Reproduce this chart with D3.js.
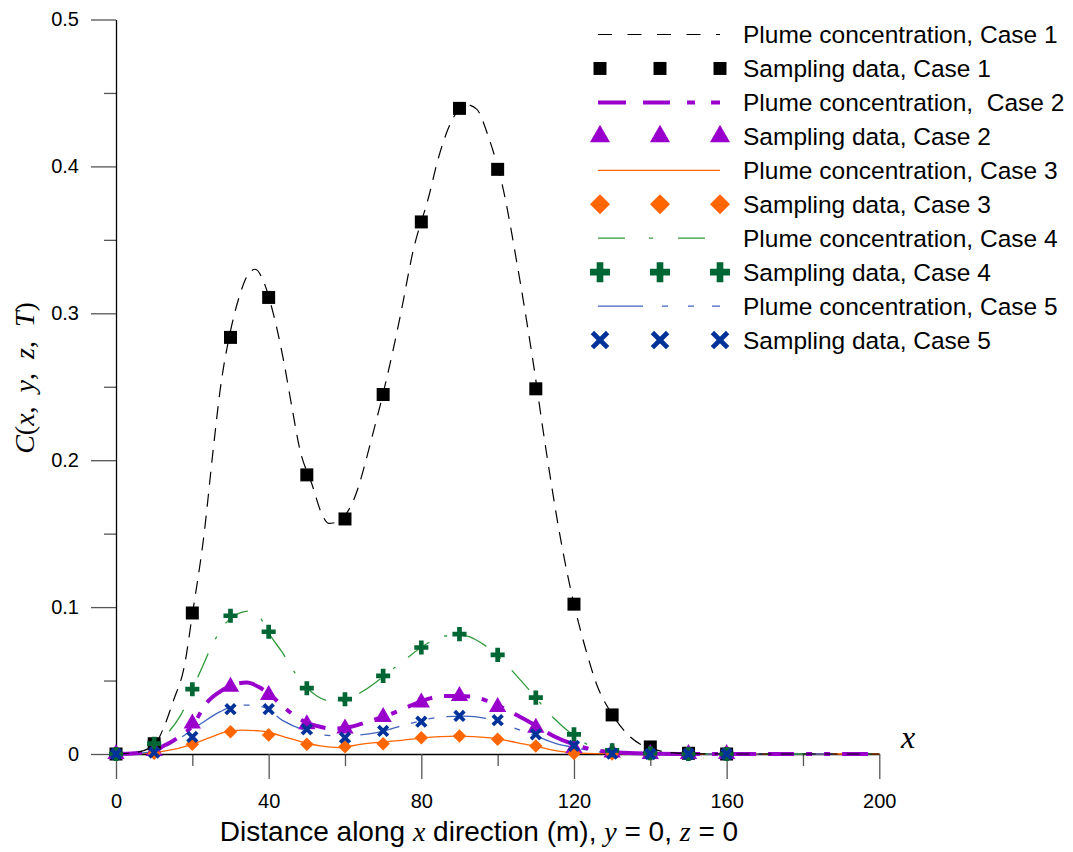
<!DOCTYPE html>
<html>
<head>
<meta charset="utf-8">
<script src="https://cdn.jsdelivr.net/npm/d3@7"></script>
<style>
  body { margin: 0; background: #fff; }
  svg { font-family: "Liberation Sans", Arial, sans-serif; }
</style>
</head>
<body>
<svg id="chart" width="1073" height="852"></svg>
<script>
// sampling locations (m) and measured values
const sampleX = [0, 10, 20, 30, 40, 50, 60, 70, 80, 90, 100, 110, 120, 130, 140, 150, 160];
const sample1 = [0, 0.007, 0.096, 0.2836, 0.3108, 0.190, 0.160, 0.2447, 0.3622, 0.4395, 0.398, 0.2486, 0.102, 0.0266, 0.0048, 0.0005, 0];
const sample2 = [0, 0.002, 0.0207, 0.0457, 0.0402, 0.0202, 0.0174, 0.0252, 0.035, 0.0395, 0.032, 0.0179, 0.004, 0.001, 0, 0, 0];
const sample3 = [0, 0.0005, 0.0066, 0.0152, 0.013, 0.0066, 0.005, 0.007, 0.0111, 0.0123, 0.010, 0.0055, 0.0003, 0, 0, 0, 0];
const sample4 = [0, 0.007, 0.0441, 0.0941, 0.0832, 0.0448, 0.0373, 0.0532, 0.0725, 0.0816, 0.0675, 0.0384, 0.0134, 0.0025, 0.0005, 0, 0];
const sample5 = [0, 0.001, 0.0116, 0.0305, 0.0305, 0.0168, 0.0111, 0.0157, 0.022, 0.0259, 0.023, 0.0134, 0.0055, 0.0002, 0, 0, 0];

// plume concentration curves, [x, C]
const plume1 = [[0,0],[5,0.001],[10,0.006],[12.5,0.018],[15,0.036],[18,0.061],[20,0.095],[23,0.148],[25.5,0.208],[27.3,0.248],[30,0.288],[32.5,0.313],[34.3,0.325],[36.5,0.330],[38.6,0.322],[41.2,0.300],[43.9,0.268],[46.1,0.236],[48.2,0.207],[51.3,0.184],[54,0.163],[55.7,0.157],[58,0.158],[62.2,0.1725],[67.5,0.220],[71,0.2565],[74.4,0.297],[77.9,0.343],[81.9,0.379],[84.5,0.406],[87.6,0.429],[91.9,0.442],[94.5,0.439],[97.6,0.420],[101.5,0.384],[105,0.335],[109.4,0.265],[112.5,0.210],[116.8,0.142],[120,0.102],[123,0.072],[126,0.047],[130,0.027],[134,0.0135],[137.4,0.0066],[140,0.004],[145,0.001],[150,0.0003],[160,0],[200,0]];
const plume2 = [[0,0],[5,0.0005],[10,0.002],[12.4,0.0054],[15,0.009],[17.2,0.0129],[20,0.019],[23.5,0.034],[27,0.042],[29.9,0.0463],[34.3,0.0486],[37.7,0.0452],[41.2,0.0384],[43.9,0.032],[49.1,0.0225],[54.3,0.018],[57,0.0172],[60.5,0.018],[66.6,0.0225],[71.8,0.027],[77,0.0327],[82.3,0.0379],[86,0.0395],[90.2,0.0395],[94.5,0.0384],[100,0.033],[104.6,0.027],[109.4,0.0202],[114.6,0.0123],[119.9,0.0066],[125,0.003],[130,0.0012],[140,0.0003],[150,0],[200,0]];
const plume3 = [[0,0],[5,0.0002],[10,0.001],[15,0.0031],[20,0.0068],[24.6,0.0112],[28,0.0145],[32.5,0.0163],[37.7,0.0157],[40,0.0148],[44.7,0.0112],[49,0.008],[53.5,0.0055],[58.7,0.0044],[64,0.0066],[70,0.0082],[75.3,0.0094],[80,0.0108],[85,0.0118],[89,0.0122],[93.7,0.0118],[100,0.0103],[105,0.0077],[110,0.0052],[115.5,0.0021],[120,0.0008],[130,0.0002],[140,0],[200,0]];
const plume4 = [[0,0],[5,0.001],[10,0.005],[12.4,0.011],[16.8,0.0258],[22.5,0.0586],[25.5,0.0757],[28.8,0.0893],[32,0.0955],[34.7,0.0972],[37.5,0.0935],[40.8,0.0792],[43.4,0.0698],[47.2,0.054],[52.6,0.0395],[56,0.036],[58.7,0.0356],[64.8,0.0429],[71,0.0547],[75.8,0.0645],[81.9,0.0757],[87,0.0805],[91.9,0.0803],[94.5,0.0774],[100,0.067],[105.4,0.052],[108.5,0.0429],[114.6,0.0247],[120,0.0125],[124.2,0.0055],[130,0.0018],[140,0.0003],[150,0],[200,0]];
const plume5 = [[0,0],[5,0.0003],[10,0.002],[15.5,0.0088],[22,0.0202],[27.3,0.0288],[31,0.0326],[34.3,0.0333],[38.6,0.0319],[43.6,0.0229],[49,0.0165],[53,0.0135],[58.7,0.0122],[63,0.0128],[68.3,0.0145],[76.2,0.0202],[85,0.0251],[91,0.0258],[97.2,0.0242],[104.1,0.0179],[111.1,0.0111],[116,0.0066],[120,0.0045],[125,0.002],[130,0.0008],[140,0],[200,0]];

const xTicks = [0, 40, 80, 120, 160, 200];
const xMinorTicks = [20, 60, 100, 140, 180];
const yTicks = [0, 0.1, 0.2, 0.3, 0.4, 0.5];
const yMinorTicks = [0.05, 0.15, 0.25, 0.35, 0.45];

const lineLabels = ['Plume concentration, Case 1', 'Plume concentration,  Case 2', 'Plume concentration, Case 3', 'Plume concentration, Case 4', 'Plume concentration, Case 5'];
const markLabels = ['Sampling data, Case 1', 'Sampling data, Case 2', 'Sampling data, Case 3', 'Sampling data, Case 4', 'Sampling data, Case 5'];

const svg = d3.select('#chart');
svg.append('rect').attr('width', 1073).attr('height', 852).attr('fill', '#fff');

const x = d3.scaleLinear().domain([0, 200]).range([116, 879.3]);
const y = d3.scaleLinear().domain([0, 0.5]).range([754, 19.5]);

// ---- axes
function styleAxis(g) {
  g.selectAll('.tick line').attr('stroke', '#555').attr('stroke-width', 1.3);
  g.selectAll('.tick text').attr('fill', '#000').attr('font-size', 20)
    .attr('font-family', '"Liberation Sans", Arial, sans-serif');
  g.select('.domain').attr('stroke', '#000').attr('stroke-width', 1.3);
}

const gxMinor = svg.append('g').attr('transform', `translate(0,${y(0)})`)
  .call(d3.axisBottom(x).tickValues(xMinorTicks).tickSize(12).tickFormat(''));
gxMinor.select('.domain').remove();
styleAxis(gxMinor);
const gx = svg.append('g').attr('transform', `translate(0,${y(0)})`)
  .call(d3.axisBottom(x).tickValues(xTicks).tickSize(25).tickSizeOuter(0).tickPadding(15).tickFormat(d3.format('d')));
styleAxis(gx);

const gyMinor = svg.append('g').attr('transform', `translate(${x(0)},0)`)
  .call(d3.axisLeft(y).tickValues(yMinorTicks).tickSize(12).tickFormat(''));
gyMinor.select('.domain').remove();
styleAxis(gyMinor);
const gy = svg.append('g').attr('transform', `translate(${x(0)},0)`)
  .call(d3.axisLeft(y).tickValues(yTicks).tickSize(25).tickSizeOuter(0).tickPadding(12).tickFormat(d => d === 0 ? '0' : d3.format('.1f')(d)));
styleAxis(gy);

// axis titles
const serif = '"Liberation Serif", "Times New Roman", serif';
const xt = svg.append('text').attr('x', 479).attr('y', 841).attr('text-anchor', 'middle')
  .attr('font-size', 28).style('white-space', 'pre');
xt.append('tspan').text('Distance along ');
xt.append('tspan').attr('font-family', serif).attr('font-style', 'italic').text('x');
xt.append('tspan').text(' direction (m), ');
xt.append('tspan').attr('font-family', serif).attr('font-style', 'italic').text('y');
xt.append('tspan').text(' = 0, ');
xt.append('tspan').attr('font-family', serif).attr('font-style', 'italic').text('z');
xt.append('tspan').text(' = 0');

const yt = svg.append('text').attr('transform', 'translate(34,378) rotate(-90)')
  .attr('text-anchor', 'middle').attr('font-family', serif).attr('font-size', 28).style('white-space', 'pre');
[['C', 1], ['(', 0], ['x', 1], [',  ', 0], ['y', 1], [',  ', 0], ['z', 1], [',  ', 0], ['T', 1], [')', 0]]
  .forEach(([t, it]) => yt.append('tspan').attr('font-style', it ? 'italic' : 'normal').text(t));

svg.append('text').attr('x', 908).attr('y', 748).attr('text-anchor', 'middle')
  .attr('font-family', serif).attr('font-style', 'italic').attr('font-size', 32).text('x');

// ---- series styles
const series = [
  { curve: plume1, data: sample1, line: '#000', width: 1.2, dash: '13,9', legendDash: '14,15.5', mark: 'square', color: '#000' },
  { curve: plume2, data: sample2, line: '#9900cc', width: 4, dash: '26,12,26,12,6,12,6,12', legendDash: '28,17,27,17,8,16,11', mark: 'triangle', color: '#9900cc' },
  { curve: plume3, data: sample3, line: '#ff6600', width: 1.3, dash: null, legendDash: null, mark: 'diamond', color: '#ff6600' },
  { curve: plume4, data: sample4, line: '#2e9a3a', width: 1.3, dash: '26,16,3,16', legendDash: '27,24,4,25,27,20', mark: 'plus', color: '#006633' },
  { curve: plume5, data: sample5, line: '#3f63bf', width: 1.3, dash: '40,12,6,12,6,12', legendDash: '45,19,6,20,6,18,8', mark: 'cross', color: '#003399' }
];

const line = d3.line().x(d => x(d[0])).y(d => y(d[1])).curve(d3.curveMonotoneX);

function markPath(type, big) {
  if (type === 'square') return d3.symbol(d3.symbolSquare, 169)();
  if (type === 'triangle') return d3.symbol(d3.symbolTriangle, big ? 175 : 130)();
  if (type === 'diamond') return d3.symbol(d3.symbolSquare, big ? 200 : 92)();
  if (type === 'plus') return d3.symbol(d3.symbolCross, big ? 222 : 110)();
  const r = big ? 7.6 : 4.8;
  return `M${-r},${-r}L${r},${r}M${-r},${r}L${r},${-r}`;
}

function drawMark(g, s, cx, cy, big) {
  const p = g.append('path').attr('d', markPath(s.mark, big));
  const rot = s.mark === 'diamond' ? ' rotate(45)' : '';
  p.attr('transform', `translate(${cx},${cy})${rot}`);
  if (s.mark === 'cross') {
    p.attr('fill', 'none').attr('stroke', s.color).attr('stroke-width', big ? 4.8 : 3.8);
  } else {
    p.attr('fill', s.color);
  }
}

const plot = svg.append('g');
[2, 4, 3, 1, 0].forEach(i => {
  const s = series[i];
  plot.append('path').datum(s.curve)
    .attr('fill', 'none').attr('stroke', s.line).attr('stroke-width', s.width)
    .attr('stroke-dasharray', s.dash).attr('d', line);
});
series.forEach(s => {
  const g = plot.append('g');
  sampleX.forEach((v, i) => drawMark(g, s, x(v), y(s.data[i]), false));
});

// ---- legend
const legend = svg.append('g');
const rowY = i => 34.5 + i * 33.95;
series.forEach((s, k) => {
  const ly = rowY(2 * k), my = rowY(2 * k + 1);
  legend.append('line').attr('x1', 598).attr('x2', 720).attr('y1', ly).attr('y2', ly)
    .attr('stroke', s.line).attr('stroke-width', s.width).attr('stroke-dasharray', s.legendDash);
  legend.append('text').attr('x', 743).attr('y', ly + 8.5).attr('font-size', 24.5)
    .style('white-space', 'pre').text(lineLabels[k]);
  const gm = legend.append('g');
  [600, 660, 720].forEach(cx => drawMark(gm, s, cx, my, true));
  legend.append('text').attr('x', 743).attr('y', my + 8.5).attr('font-size', 24.5).text(markLabels[k]);
});
</script>
</body>
</html>
